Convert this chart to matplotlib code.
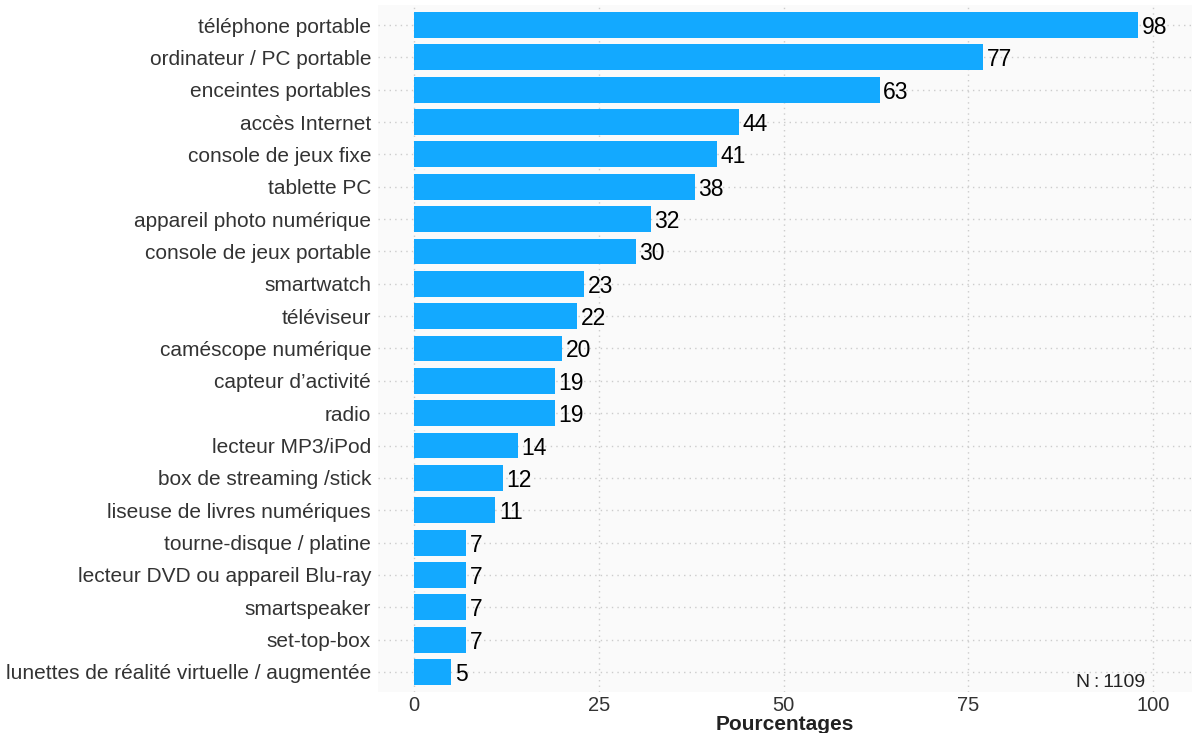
import matplotlib.pyplot as plt

plt.rcParams['font.family'] = ['Liberation Sans', 'DejaVu Sans']

# Data
categories = ['téléphone portable', 'ordinateur / PC portable', 'enceintes portables',
              'accès Internet', 'console de jeux fixe', 'tablette PC',
              'appareil photo numérique', 'console de jeux portable', 'smartwatch',
              'téléviseur', 'caméscope numérique', 'capteur d’activité', 'radio',
              'lecteur MP3/iPod', 'box de streaming /stick', 'liseuse de livres numériques',
              'tourne-disque / platine', 'lecteur DVD ou appareil Blu-ray',
              'smartspeaker', 'set-top-box', 'lunettes de réalité virtuelle / augmentée']
values = [98, 77, 63, 44, 41, 38, 32, 30, 23, 22, 20, 19, 19, 14, 12, 11, 7, 7, 7, 7, 5]
xticks = [0, 25, 50, 75, 100]

fig = plt.figure(figsize=(11.92, 7.33), dpi=100)
ax = fig.add_axes([378 / 1192, 1 - 692 / 733, 814 / 1192, 687 / 733])
ax.set_facecolor('#fafafa')

ypos = list(range(len(categories)))
ax.barh(ypos, values, height=0.8, color='#13a9ff', zorder=3)
for y, v in zip(ypos, values):
    ax.text(v + 0.5, y, str(v), va='center_baseline', ha='left', fontsize=16.5,
            color='black', zorder=4)

ax.set_xlim(-4.9, 105.3)
ax.set_ylim(len(categories) - 0.38, -0.62)
ax.set_yticks(ypos)
ax.set_yticklabels(categories, fontsize=15, color='#333333')
ax.set_xticks(xticks)
ax.set_xticklabels([str(t) for t in xticks], fontsize=14.5, color='#333333')
ax.tick_params(length=0)
ax.tick_params(axis='x', pad=3)
ax.tick_params(axis='y', pad=5)
ax.grid(True, color='#cccccc', linestyle=(0, (1, 3)), linewidth=1, zorder=0)
for s in ax.spines.values():
    s.set_visible(False)

ax.set_xlabel('Pourcentages', fontsize=15, fontweight='bold', color='#222222', labelpad=0)
ax.text(99, len(categories) - 0.68, 'N\u2009:\u20091109', ha='right', va='center',
        fontsize=14, color='#222222')

fig.savefig('out.png', dpi=100)
